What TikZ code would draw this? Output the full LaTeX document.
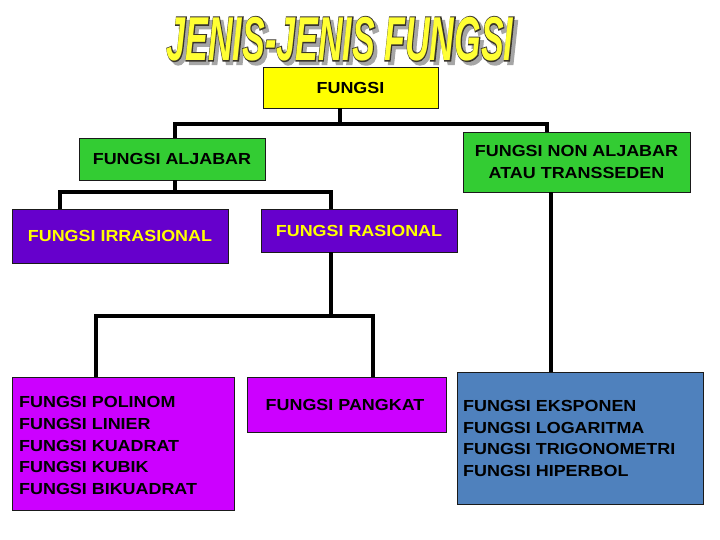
\documentclass[tikz,border=0pt]{standalone}
\usepackage{fontspec}
\usepackage{graphicx}
\setmainfont{Liberation Sans}
\newfontfamily\titleout{Liberation Sans}[UprightFont=* Bold Italic, FakeBold=4]
\newfontfamily\titlein{Liberation Sans}[UprightFont=* Bold Italic]
\definecolor{cyel}{HTML}{FFFF00}
\definecolor{cgreen}{HTML}{33CC33}
\definecolor{cpurple}{HTML}{6600CC}
\definecolor{cmag}{HTML}{CC00FF}
\definecolor{cblue}{HTML}{4F81BD}
\definecolor{ctitle}{HTML}{FFFF33}
\definecolor{cline}{HTML}{1A1A1A}
\newcommand{\wt}[1]{\scalebox{1.12}[1]{#1}}
\begin{document}
\begin{tikzpicture}[x=1pt,y=-1pt,
  box/.style={draw=cline,line width=0.8pt,inner sep=0pt,font=\fontsize{16}{21.7}\selectfont\bfseries},
  btxt/.style={inner sep=0pt,align=left,font=\fontsize{16}{21.7}\selectfont\bfseries},
  conn/.style={line width=3.8pt,black},
  titlef/.style={inner sep=0pt,xscale=0.55}]
\useasboundingbox (0,0) rectangle (720,540);
\fill[white] (0,0) rectangle (720,540);
% title
\node[titlef,text=gray!70,font=\titleout\fontsize{62}{62}\selectfont] (tshadow) at (343.5,42.5) {JENIS-JENIS FUNGSI};
\node[titlef,text=black!80!olive,font=\titleout\fontsize{62}{62}\selectfont] (toutline) at (340,39) {JENIS-JENIS FUNGSI};
\node[titlef,text=ctitle,font=\titlein\fontsize{62}{62}\selectfont] (title) at (340,39) {JENIS-JENIS FUNGSI};
% boxes
\node[box,fill=cyel,minimum width=175,minimum height=41] (f) at (350.5,87.5) {\wt{FUNGSI}};
\node[box,fill=cgreen,minimum width=186,minimum height=42] (alj) at (172,159) {\wt{FUNGSI ALJABAR}};
\node[box,fill=cgreen,minimum width=227,minimum height=60,align=center] (non) at (576.5,162) {\wt{FUNGSI NON ALJABAR}\\\wt{ATAU TRANSSEDEN}};
\node[box,fill=cpurple,text=cyel,minimum width=216,minimum height=54] (irr) at (120,236) {\wt{FUNGSI IRRASIONAL}};
\node[box,fill=cpurple,text=cyel,minimum width=196,minimum height=43] (ras) at (359,230.5) {\wt{FUNGSI RASIONAL}};
\node[box,fill=cmag,minimum width=222,minimum height=133] (pol) at (123,443.5) {};
\node[btxt,anchor=north west] (poltxt) at (19,396.5) {\wt{FUNGSI POLINOM}\\\wt{FUNGSI LINIER}\\\wt{FUNGSI KUADRAT}\\\wt{FUNGSI KUBIK}\\\wt{FUNGSI BIKUADRAT}};
\node[box,fill=cmag,minimum width=199,minimum height=55] (pang) at (346.5,404.5) {};
\node[btxt] (pangtxt) at (345,405) {\wt{FUNGSI PANGKAT}};
\node[box,fill=cblue,minimum width=246,minimum height=132] (eks) at (580,438) {};
\node[btxt,anchor=north west] (ekstxt) at (463,400) {\wt{FUNGSI EKSPONEN}\\\wt{FUNGSI LOGARITMA}\\\wt{FUNGSI TRIGONOMETRI}\\\wt{FUNGSI HIPERBOL}};
% connectors
\coordinate (j1) at (340,124);
\draw[conn] (f.south -| j1) -- (j1);
\draw[conn] (alj.north -| 175,0) -- (175,124) -- (547,124) -- (non.north -| 547,0);
\coordinate (j2) at (175,192);
\draw[conn] (alj.south -| j2) -- (j2);
\draw[conn] (irr.north -| 60,0) -- (60,192) -- (331,192) -- (ras.north -| 331,0);
\coordinate (j3) at (331,316);
\draw[conn] (ras.south -| j3) -- (j3);
\draw[conn] (pol.north -| 96,0) -- (96,316) -- (373,316) -- (pang.north -| 373,0);
\draw[conn] (non.south -| 551,0) -- (eks.north -| 551,0);
\end{tikzpicture}
\end{document}
